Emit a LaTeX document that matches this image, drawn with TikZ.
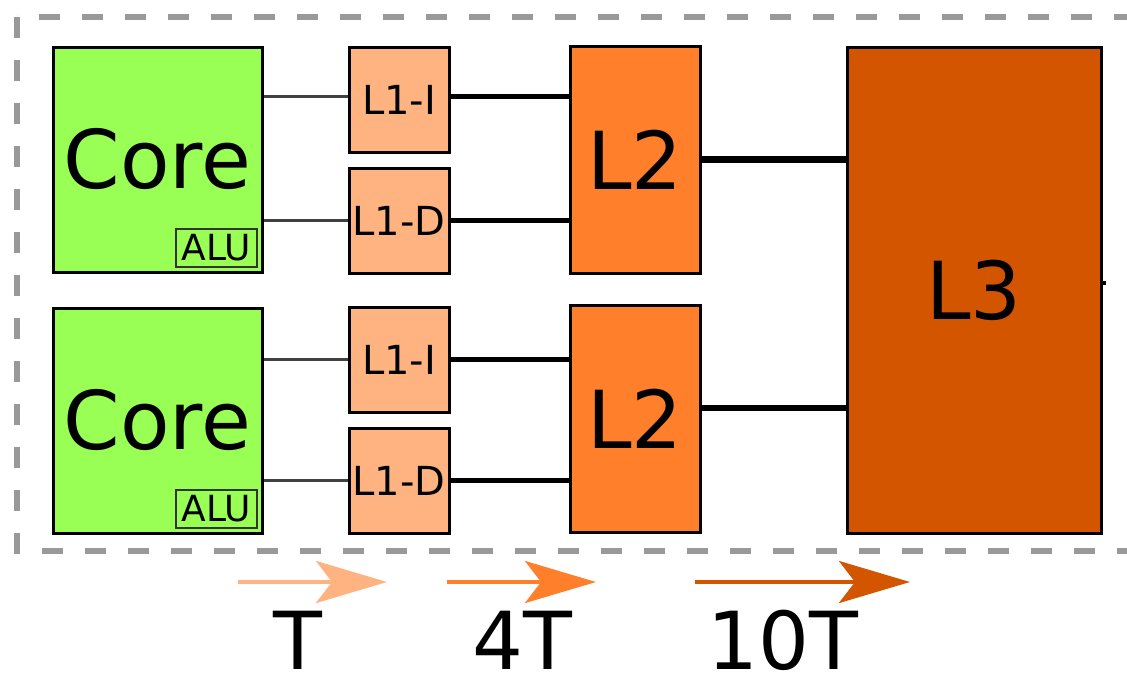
\documentclass[tikz,border=0pt]{standalone}
\usepackage{fontspec}
\setmainfont{DejaVu Sans}
\usepackage{xcolor}
\usepackage{tikz}
\usetikzlibrary{arrows.meta,positioning}

\definecolor{coregreen}{HTML}{99FF55}
\definecolor{lonecol}{HTML}{FFB380}
\definecolor{ltwocol}{HTML}{FF7F2A}
\definecolor{lthreecol}{HTML}{D45500}
\definecolor{framegray}{HTML}{999999}

\begin{document}
\begin{tikzpicture}[x=1pt,y=-1pt,
  box/.style={draw,line width=3pt,inner sep=0pt},
  core/.style={box,fill=coregreen,minimum width=209pt,minimum height=225pt,font=\fontsize{81}{90}\selectfont},
  alu/.style={draw=black!80,line width=2pt,fill=coregreen,inner sep=0pt,minimum width=81pt,minimum height=38pt,font=\fontsize{36}{40}\selectfont},
  lone/.style={box,fill=lonecol,minimum width=100pt,minimum height=105pt,font=\fontsize{40}{44}\selectfont},
  ltwo/.style={box,fill=ltwocol,minimum width=130pt,minimum height=227pt,font=\fontsize{80}{90}\selectfont},
  lthree/.style={box,fill=lthreecol,minimum width=254pt,minimum height=486pt,font=\fontsize{80}{90}\selectfont},
  thin/.style={black!75,line width=2.2pt},
  bus/.style={black,line width=5.5pt},
  wide/.style={black,line width=6.5pt},
  lat/.style={line width=4pt,-{Stealth[length=71pt,width=42pt,inset=16pt]}},
  lbl/.style={anchor=base,font=\fontsize{80}{90}\selectfont}]
  \clip (0,0) rectangle (1127,673);
  \draw[framegray,line width=5.5pt,dash pattern=on 21pt off 22pt] (17,17) rectangle (1160,551);

  % cores
  \node[core] (C1) at (157.5,159.5) {Core};
  \node[core] (C2) at (157.5,420.5) {Core};
  \node[alu]  (A1) at (216.5,248)   {ALU};
  \node[alu]  (A2) at (216.5,509)   {ALU};

  % caches
  \node[lone] (I1) at (399,99.5)  {L1-I};
  \node[lone] (D1) at (399,220.5) {L1-D};
  \node[lone] (I2) at (399,359.5) {L1-I};
  \node[lone] (D2) at (399,480.5) {L1-D};
  \node[ltwo] (M1) at (635,159.5) {L2};
  \node[ltwo] (M2) at (635,419)   {L2};
  \node[lthree] (L3) at (974,290) {L3};

  \draw[thin] ([yshift=3pt]I1.west) -- ([yshift=3pt]I1.west -| C1.east);
  \draw[thin] (D1.west) -- (D1.west -| C1.east);
  \draw[thin] (I2.west) -- (I2.west -| C2.east);
  \draw[thin] (D2.west) -- (D2.west -| C2.east);
  \draw[bus] ([yshift=3pt]I1.east) -- ([yshift=3pt]I1.east -| M1.west);
  \draw[bus] (D1.east) -- (D1.east -| M1.west);
  \draw[bus] (I2.east) -- (I2.east -| M2.west);
  \draw[bus] (D2.east) -- (D2.east -| M2.west);
  \draw[wide] (M1.east) -- (M1.east -| L3.west);
  \draw[wide] ([yshift=11pt]M2.east) -- ([yshift=11pt]M2.east -| L3.west);
  \draw[line width=4pt] ([yshift=7pt]L3.east) -- ++(3,0);

  % latencies
  \coordinate (t1) at (238,582);  \coordinate (t2) at (387,582);
  \coordinate (f1) at (447,582);  \coordinate (f2) at (596,582);
  \coordinate (g1) at (695,582);  \coordinate (g2) at (910,582);
  \draw[lat,lonecol]   (t1) -- (t2);
  \draw[lat,ltwocol]   (f1) -- (f2);
  \draw[lat,lthreecol] (g1) -- (g2);
  \node[lbl] (lT)   at (297.5,669) {T};
  \node[lbl] (l4T)  at (522,669)   {4T};
  \node[lbl] (l10T) at (783,669)   {10T};
\end{tikzpicture}
\end{document}
